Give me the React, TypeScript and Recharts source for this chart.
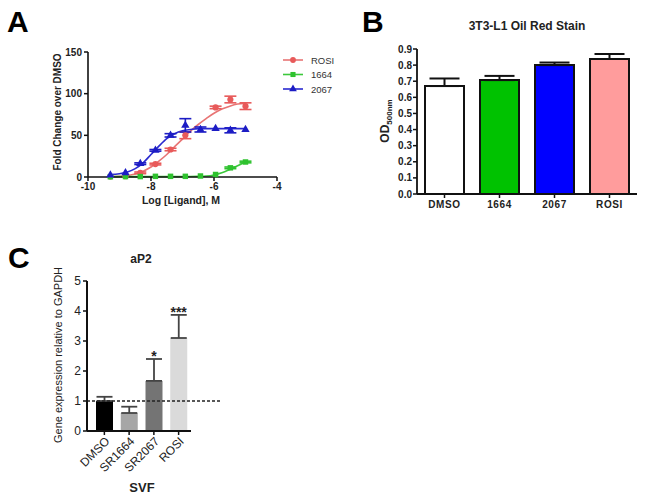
import React from "react";
import {
  Bar,
  Cell,
  ComposedChart,
  ErrorBar,
  Line,
  ReferenceLine,
  Scatter,
  Symbols,
  XAxis,
  YAxis,
  ZAxis,
} from "recharts";

const FONT = "'Liberation Sans', Arial, Helvetica, sans-serif";

// ---- Panel A: dose response ----
const logConc = [-9.29, -8.81, -8.34, -7.86, -7.38, -6.91, -6.43, -5.95, -5.48, -5.0];
const rosiMean = [0.5, 1, 5, 15.5, 33, 50, null, 83.5, 93, 85];
const rosiErr = [0, 0, 1, 1, 1.5, 4, null, 1.5, 4, 4];
const mean1664 = [0.3, 0.5, 0.5, 0.8, 0.8, 0.8, 1.2, 3, 11, 18];
const err1664 = [0, 0, 0, 0, 0, 0, 0, 0, 1, 1];
const mean2067 = [2.4, 5, 16, 32, 50, 62, 57, 58, 56, 57];
const err2067 = [0, 0, 1, 1, 2, 8, 3, 0, 3, 0];

const fitX = [-9.3, -9, -8.75, -8.5, -8.25, -8, -7.75, -7.5, -7.25, -7, -6.75, -6.5, -6.25, -6, -5.75, -5.5, -5.25, -5];
const rosiFit = [0.3, 0.8, 1.6, 3.5, 7, 12, 19, 27, 36.5, 45.5, 55, 63, 70, 76.5, 81.5, 85, 87.5, 88.5];
const fit1664 = [0.5, 0.5, 0.5, 0.5, 0.5, 0.5, 0.5, 0.5, 0.5, 0.5, 0.6, 0.8, 1.2, 2.5, 5, 9, 13.5, 18];
const fit2067 = [3, 4, 6, 10, 17, 27, 37, 46, 52, 55.5, 57, 58, 58, 58, 58, 58, 58, 58];

const seriesA = [
  { name: "ROSI", mean: rosiMean, err: rosiErr, fit: rosiFit, color: "#e85a5a", line: "#e87474", shape: "circle" },
  { name: "1664", mean: mean1664, err: err1664, fit: fit1664, color: "#2ec22e", line: "#3cc83c", shape: "square" },
  { name: "2067", mean: mean2067, err: err2067, fit: fit2067, color: "#1c1cc4", line: "#2a2ad0", shape: "triangle" },
];

// ---- Panel B: oil red stain ----
const bCats = ["DMSO", "1664", "2067", "ROSI"];
const bMean = [0.67, 0.707, 0.8, 0.838];
const bErr = [0.047, 0.026, 0.016, 0.031];
const bColors = ["#ffffff", "#00c200", "#0000ff", "#ff9c9c"];

// ---- Panel C: aP2 ----
const cCats = ["DMSO", "SR1664", "SR2067", "ROSI"];
const cMean = [1.0, 0.6, 1.67, 3.1];
const cErr = [0.14, 0.21, 0.73, 0.77];
const cSig = ["", "", "*", "***"];
const cColors = ["#000000", "#a6a6a6", "#747474", "#dadada"];

const pointsOf = (s: (typeof seriesA)[number]) =>
  logConc
    .map((x, i) => ({ x, y: s.mean[i], err: s.err[i] }))
    .filter((p) => p.y !== null);
const curveOf = (s: (typeof seriesA)[number]) => fitX.map((x, i) => ({ x, y: s.fit[i] }));

const bData = bCats.map((name, i) => ({ name, mean: bMean[i], errRange: [0, bErr[i]] }));
const cData = cCats.map((name, i) => ({
  name,
  mean: cMean[i],
  errRange: [0, cErr[i]],
  top: cMean[i] + cErr[i],
  sig: cSig[i],
}));

const boldTick = { fontSize: 10, fontWeight: 700, fill: "#222", fontFamily: FONT };
const plainTick = { fontSize: 12, fill: "#222", fontFamily: FONT };

const StarLabel = (props: any) => {
  const { cx, cy, payload } = props;
  return (
    <text x={cx} y={cy + 2} textAnchor="middle" fontSize={14} fontWeight={700} fill="#222" fontFamily={FONT}>
      {payload.sig}
    </text>
  );
};

export default function App() {
  return (
    <div style={{ position: "absolute", left: 0, top: 0, width: 645, height: 503, background: "#fff" }}>
      {/* Panel A */}
      <div style={{ position: "absolute", left: 0, top: 0 }}>
        <ComposedChart width={290} height={215} margin={{ top: 52, right: 13, bottom: 0, left: 0 }}>
          <XAxis
            type="number"
            dataKey="x"
            domain={[-10, -4]}
            ticks={[-10, -8, -6, -4]}
            height={38}
            tickSize={4}
            tickMargin={2}
            tick={boldTick}
            axisLine={{ stroke: "#111", strokeWidth: 1.6 }}
            tickLine={{ stroke: "#111", strokeWidth: 1.5 }}
          />
          <YAxis
            type="number"
            domain={[0, 150]}
            ticks={[0, 50, 100, 150]}
            width={88}
            tickSize={4}
            tickMargin={2}
            tick={boldTick}
            axisLine={{ stroke: "#111", strokeWidth: 1.6 }}
            tickLine={{ stroke: "#111", strokeWidth: 1.5 }}
          />
          <ZAxis range={[30, 30]} />
          {seriesA.map((s) => (
            <Line
              key={"fit" + s.name}
              data={curveOf(s)}
              dataKey="y"
              type="monotone"
              dot={false}
              stroke={s.line}
              strokeWidth={1.6}
              isAnimationActive={false}
            />
          ))}
          {seriesA.map((s) => (
            <Scatter
              key={"pts" + s.name}
              data={pointsOf(s)}
              dataKey="y"
              fill={s.color}
              shape={s.shape as any}
              isAnimationActive={false}
            >
              <ErrorBar dataKey="err" direction="y" width={6} stroke={s.color} strokeWidth={1.6} />
            </Scatter>
          ))}
        </ComposedChart>
      </div>

      {/* Panel B */}
      <div style={{ position: "absolute", left: 320, top: 0 }}>
        <ComposedChart width={325} height={230} data={bData} margin={{ top: 49, right: 8, bottom: 0, left: 0 }}>
          <XAxis
            dataKey="name"
            height={36}
            tickSize={4}
            tickMargin={3}
            tick={{ ...boldTick, letterSpacing: 0.6 }}
            axisLine={{ stroke: "#111", strokeWidth: 1.8 }}
            tickLine={{ stroke: "#111", strokeWidth: 1.5 }}
          />
          <YAxis
            type="number"
            domain={[0, 0.9]}
            ticks={[0, 0.1, 0.2, 0.3, 0.4, 0.5, 0.6, 0.7, 0.8, 0.9]}
            tickFormatter={(v: number) => v.toFixed(1)}
            width={97}
            tickSize={4}
            tickMargin={1}
            tick={boldTick}
            axisLine={{ stroke: "#111", strokeWidth: 1.8 }}
            tickLine={{ stroke: "#111", strokeWidth: 1.5 }}
          />
          <Bar dataKey="mean" barSize={39} stroke="#111" strokeWidth={2} isAnimationActive={false}>
            {bData.map((d, i) => (
              <Cell key={d.name} fill={bColors[i]} />
            ))}
            <ErrorBar dataKey="errRange" direction="y" width={15} stroke="#111" strokeWidth={2} />
          </Bar>
        </ComposedChart>
      </div>

      {/* Panel C */}
      <div style={{ position: "absolute", left: 0, top: 235 }}>
        <ComposedChart width={220} height={268} data={cData} margin={{ top: 46, right: 29, bottom: 0, left: 0 }}>
          <XAxis
            dataKey="name"
            height={72}
            padding={{ left: 5, right: 0 }}
            tickSize={4}
            tickMargin={1}
            interval={0}
            tick={{ ...plainTick, angle: -45, textAnchor: "end" }}
            axisLine={{ stroke: "#111", strokeWidth: 2 }}
            tickLine={{ stroke: "#111", strokeWidth: 1.5 }}
          />
          <XAxis xAxisId="ref" type="number" domain={[0, 4]} hide />
          <YAxis
            type="number"
            domain={[0, 5]}
            ticks={[0, 1, 2, 3, 4, 5]}
            width={87}
            tickSize={4}
            tickMargin={2}
            tick={plainTick}
            axisLine={{ stroke: "#111", strokeWidth: 2 }}
            tickLine={{ stroke: "#111", strokeWidth: 1.5 }}
          />
          <Bar dataKey="mean" barSize={17} isAnimationActive={false}>
            {cData.map((d, i) => (
              <Cell key={d.name} fill={cColors[i]} />
            ))}
            <ErrorBar dataKey="errRange" direction="y" width={8} stroke="#444" strokeWidth={1.8} />
          </Bar>
          <ReferenceLine
            xAxisId="ref"
            segment={[
              { x: 0, y: 1 },
              { x: 4.35, y: 1 },
            ]}
            ifOverflow="visible"
            stroke="#222"
            strokeWidth={1.5}
            strokeDasharray="3 2"
          />
          <Scatter dataKey="top" shape={StarLabel} isAnimationActive={false} />
        </ComposedChart>
      </div>

      {/* titles, labels and legend */}
      <svg
        width={645}
        height={503}
        style={{ position: "absolute", left: 0, top: 0, pointerEvents: "none" }}
        fontFamily={FONT}
      >
        <text x={7} y={32} fontSize={30} fontWeight={700} fill="#000">A</text>
        <text x={362} y={32} fontSize={30} fontWeight={700} fill="#000">B</text>
        <text x={8} y={268} fontSize={30} fontWeight={700} fill="#000">C</text>

        <text transform="translate(61,112) rotate(-90)" textAnchor="middle" fontSize={10} fontWeight={700} fill="#222">
          Fold Change over DMSO
        </text>
        <text x={181} y={204} textAnchor="middle" fontSize={10.5} fontWeight={700} fill="#222">
          Log [Ligand], M
        </text>
        {seriesA.map((s, i) => (
          <g key={s.name}>
            <line x1={283} x2={303} y1={60 + i * 14.5} y2={60 + i * 14.5} stroke={s.line} strokeWidth={1.6} />
            <Symbols cx={293} cy={60 + i * 14.5} type={s.shape as any} size={26} fill={s.color} />
            <text x={311} y={63.5 + i * 14.5} fontSize={9.5} fill="#333">
              {s.name}
            </text>
          </g>
        ))}

        <text x={527} y={30} textAnchor="middle" fontSize={12} fontWeight={700} fill="#222">
          3T3-L1 Oil Red Stain
        </text>
        <text transform="translate(389,121) rotate(-90)" textAnchor="middle" fontSize={12} fontWeight={700} fill="#222">
          OD
          <tspan fontSize={8} dy={3}>500nm</tspan>
        </text>

        <text x={141} y={263} textAnchor="middle" fontSize={12} fontWeight={700} fill="#222">
          aP2
        </text>
        <text transform="translate(62,355) rotate(-90)" textAnchor="middle" fontSize={11} fill="#222">
          Gene expression relative to GAPDH
        </text>
        <text x={142} y={492} textAnchor="middle" fontSize={13} fontWeight={700} fill="#222">
          SVF
        </text>
      </svg>
    </div>
  );
}
